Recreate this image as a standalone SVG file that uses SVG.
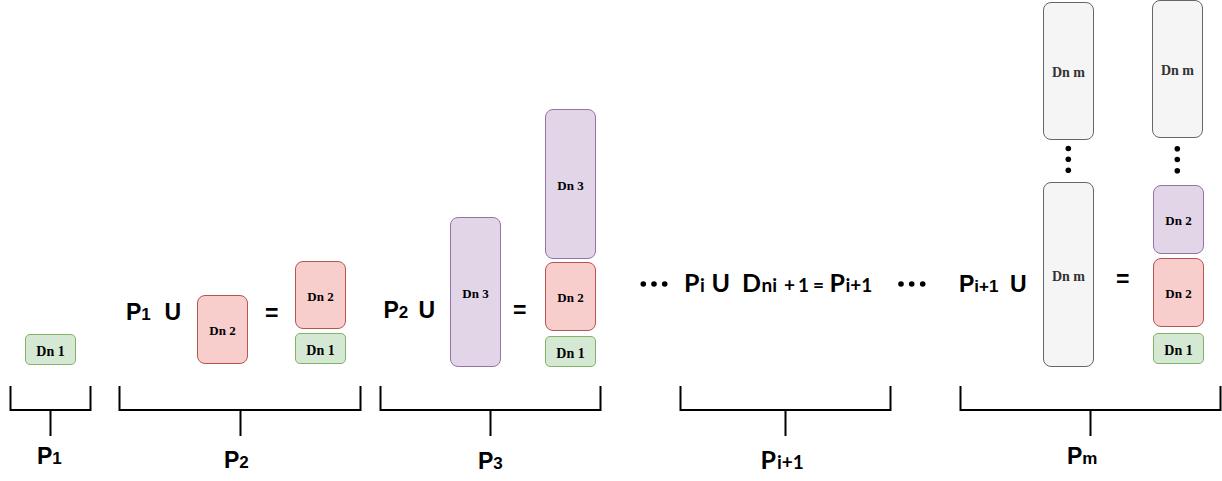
<svg xmlns="http://www.w3.org/2000/svg" width="1222" height="481" viewBox="0 0 1222 481">
<style>
.g{fill:#d5e8d4;stroke:#82b366;stroke-width:1}
.r{fill:#f8cecc;stroke:#b85450;stroke-width:1}
.p{fill:#e1d5e7;stroke:#9673a6;stroke-width:1}
.k{fill:#f5f5f5;stroke:#666666;stroke-width:1}
.dn{font-family:"Liberation Serif","Times New Roman",serif;font-weight:bold;font-size:13px;fill:#000;text-anchor:middle}
.dn1{font-size:14px}
.dnm{font-size:14px;fill:#333333}
.big{font-family:"Liberation Sans",Arial,sans-serif;font-weight:bold;font-size:23px;fill:#000}
.lato{font-family:Lato,"Liberation Sans",sans-serif;font-weight:bold;font-size:25px;fill:#000}
.sub{font-size:17px}
.ls{font-size:19px}
.br{fill:none;stroke:#000;stroke-width:2}
.dot{fill:#000}
</style>

<g id="connectors">
  <path class="br" d="M10.5,386 V410 H90.5 V386 M50.5,410 V436"/>
  <path class="br" d="M119.5,386 V410 H360.5 V386 M240.5,410 V436"/>
  <path class="br" d="M380.5,386 V410 H600.5 V386 M490.5,410 V436"/>
  <path class="br" d="M680.5,386 V410 H890.5 V386 M785.5,410 V436"/>
  <path class="br" d="M960.5,386 V410 H1220.5 V386 M1090.5,410 V436"/>
</g>

<g id="n1"><rect class="g" x="25.5" y="334.5" width="50" height="30" rx="4.5"/><text class="dn dn1" x="50.5" y="355.5">Dn 1</text></g>

<g id="n2"><rect class="r" x="197.5" y="295.5" width="50" height="68" rx="7.5"/><text class="dn" x="222.5" y="335">Dn 2</text></g>
<g id="n3"><rect class="r" x="295.5" y="261.5" width="50" height="67" rx="7.5"/><text class="dn" x="320.5" y="301">Dn 2</text></g>
<g id="n4"><rect class="g" x="295.5" y="333.5" width="50" height="30" rx="4.5"/><text class="dn dn1" x="320.5" y="354.5">Dn 1</text></g>

<g id="n5"><rect class="p" x="450.5" y="217.5" width="50" height="149" rx="7.5"/><text class="dn" x="475.5" y="298">Dn 3</text></g>
<g id="n6"><rect class="p" x="545.5" y="109.5" width="50" height="149" rx="7.5"/><text class="dn" x="570.5" y="190">Dn 3</text></g>
<g id="n7"><rect class="r" x="545.5" y="262.5" width="50" height="68" rx="7.5"/><text class="dn" x="570.5" y="302">Dn 2</text></g>
<g id="n8"><rect class="g" x="545.5" y="336.5" width="50" height="30" rx="4.5"/><text class="dn dn1" x="570.5" y="357.5">Dn 1</text></g>

<g id="n9"><rect class="k" x="1043.5" y="2.5" width="50" height="137" rx="7.5"/><text class="dn dnm" x="1068.5" y="77">Dn m</text></g>
<g id="n10"><rect class="k" x="1043.5" y="182.5" width="50" height="184" rx="7.5"/><text class="dn dnm" x="1068.5" y="281">Dn m</text></g>
<g id="n11"><rect class="k" x="1152.5" y="0.5" width="50" height="137" rx="7.5"/><text class="dn dnm" x="1177.5" y="75">Dn m</text></g>
<g id="n12"><rect class="p" x="1153.5" y="185.5" width="50" height="68" rx="7.5"/><text class="dn" x="1178.5" y="225">Dn 2</text></g>
<g id="n13"><rect class="r" x="1153.5" y="258.5" width="50" height="68" rx="7.5"/><text class="dn" x="1178.5" y="298">Dn 2</text></g>
<g id="n14"><rect class="g" x="1153.5" y="333.5" width="50" height="30" rx="4.5"/><text class="dn dn1" x="1178.5" y="354.5">Dn 1</text></g>

<g id="dots">
  <circle class="dot" cx="643.3" cy="284" r="2.8"/><circle class="dot" cx="654" cy="284" r="2.8"/><circle class="dot" cx="664.7" cy="284" r="2.8"/>
  <circle class="dot" cx="901" cy="284" r="2.8"/><circle class="dot" cx="911.7" cy="284" r="2.8"/><circle class="dot" cx="922.7" cy="284" r="2.8"/>
  <circle class="dot" cx="1068.3" cy="148.5" r="2.8"/><circle class="dot" cx="1068.3" cy="159.3" r="2.8"/><circle class="dot" cx="1068.3" cy="170.3" r="2.8"/>
  <circle class="dot" cx="1177.3" cy="148.7" r="2.8"/><circle class="dot" cx="1177.3" cy="159.5" r="2.8"/><circle class="dot" cx="1177.3" cy="170.7" r="2.8"/>
</g>

<g id="equations">
  <text class="big" x="126" y="320">P<tspan class="sub">1</tspan><tspan x="164.5">U</tspan></text>
  <text class="big" x="265" y="321">=</text>
  <text class="big" x="383.5" y="318">P<tspan class="sub">2</tspan><tspan x="418.5">U</tspan></text>
  <text class="big" x="513" y="318">=</text>
  <text class="lato" x="684" y="292">P<tspan class="ls" x="700">i</tspan><tspan x="711.5">U</tspan><tspan x="742">D</tspan><tspan class="ls" x="761.5">ni</tspan><tspan class="ls" x="784">+</tspan><tspan class="ls" x="798">1</tspan><tspan class="ls" x="813">=</tspan><tspan x="829.5">P</tspan><tspan class="ls" x="845.5">i+1</tspan></text>
  <text class="big" x="959" y="292">P<tspan class="sub">i+1</tspan><tspan x="1010">U</tspan></text>
  <text class="big" x="1116" y="287">=</text>
</g>

<g id="labels">
  <text class="big" x="37" y="464">P<tspan class="sub">1</tspan></text>
  <text class="big" x="224" y="468">P<tspan class="sub">2</tspan></text>
  <text class="big" x="478" y="469">P<tspan class="sub">3</tspan></text>
  <text class="lato" x="760.5" y="469">P<tspan class="ls" x="777">i+1</tspan></text>
  <text class="big" x="1067" y="464">P<tspan class="sub">m</tspan></text>
</g>
</svg>
